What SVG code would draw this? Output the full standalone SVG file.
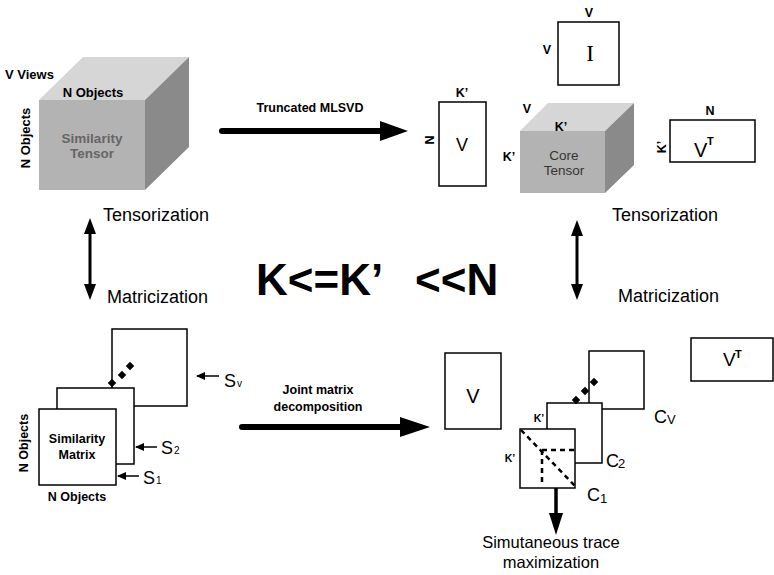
<svg xmlns="http://www.w3.org/2000/svg" width="774" height="575" viewBox="0 0 774 575">
<style>
text{font-family:"Liberation Sans",Arial,sans-serif;fill:#000}
.b{font-weight:bold}
.lbl{font-size:12.5px;font-weight:bold}
.reg{font-size:18px}
.mat{fill:#fff;stroke:#000;stroke-width:1.5}
.front{fill:#b3b3b3}
.top{fill:#d6d6d6}
.side{fill:#8a8a8a}
.dash{stroke:#000;stroke-width:2.5;stroke-dasharray:5 4;fill:none}
.thin{stroke:#000;stroke-width:1.5;fill:none}
</style>
<defs>
<marker id="sa" markerWidth="9" markerHeight="8" refX="8" refY="4" orient="auto" markerUnits="userSpaceOnUse">
<path d="M0,0 L9,4 L0,8 z" fill="#000"/>
</marker>
</defs>

<g id="similarity-tensor">
<rect class="front" x="39" y="100" width="106" height="90"/>
<polygon class="top" points="39,100 83,57 189,57 145,100"/>
<polygon class="side" points="145,100 189,57 189,147 145,190"/>
<text x="5" y="79" class="b" font-size="13">V Views</text>
<text x="93" y="97" class="b" font-size="13" text-anchor="middle">N Objects</text>
<text transform="translate(30,138) rotate(-90)" class="b" font-size="13" text-anchor="middle">N Objects</text>
<text x="92" y="143" class="b" font-size="13.5" text-anchor="middle" style="fill:#666">Similarity</text>
<text x="92" y="158" class="b" font-size="13.5" text-anchor="middle" style="fill:#666">Tensor</text>
</g>

<g id="V-top">
<rect class="mat" x="439" y="102" width="47" height="84"/>
<text x="462" y="151" class="reg" font-size="19" text-anchor="middle">V</text>
<text x="462" y="97" class="b" font-size="12.5" text-anchor="middle">K’</text>
<text transform="translate(434,140) rotate(-90)" class="b" font-size="12.5" text-anchor="middle">N</text>
</g>

<g id="I-matrix">
<rect class="mat" x="558" y="22" width="61" height="63"/>
<text x="590" y="61" font-size="23" text-anchor="middle" style="font-family:'Liberation Serif','Times New Roman',serif">I</text>
<text x="589" y="17" class="b" font-size="12.5" text-anchor="middle">V</text>
<text x="547" y="54" class="b" font-size="12.5" text-anchor="middle">V</text>
</g>

<g id="core-tensor">
<rect class="front" x="520" y="131" width="85" height="62"/>
<polygon class="top" points="520,131 548,103 634,103 605,131"/>
<polygon class="side" points="605,131 634,103 634,165 605,193"/>
<text x="527" y="113" class="b" font-size="12.5" text-anchor="middle">V</text>
<text x="561" y="131" class="b" font-size="12.5" text-anchor="middle">K’</text>
<text x="509" y="161" class="b" font-size="12.5" text-anchor="middle">K’</text>
<text x="564" y="160" font-size="13.5" text-anchor="middle" style="fill:#333">Core</text>
<text x="564" y="175" font-size="13.5" text-anchor="middle" style="fill:#333">Tensor</text>
</g>

<g id="VT-top">
<rect class="mat" x="670" y="120" width="85" height="42"/>
<text x="710" y="115" class="b" font-size="12.5" text-anchor="middle">N</text>
<text transform="translate(666,147) rotate(-90)" class="b" font-size="12.5" text-anchor="middle">K’</text>
<text x="694" y="157" font-size="20">V</text>
<text x="707" y="145" class="b" font-size="11">T</text>
</g>

<g id="labels-middle">
<text x="103" y="221" font-size="18">Tensorization</text>
<text x="107" y="303" font-size="18">Matricization</text>
<text x="612" y="221" font-size="18">Tensorization</text>
<text x="618" y="302" font-size="18">Matricization</text>
<text y="295" class="b" font-size="44"><tspan x="256">K&lt;=K’</tspan><tspan x="415">&lt;&lt;N</tspan></text>
</g>

<g id="similarity-matrices">
<rect class="mat" x="112" y="329" width="75" height="77"/>
<rect class="mat" x="57" y="388" width="77" height="76"/>
<rect class="mat" x="39" y="409" width="77" height="76"/>
<g fill="#000">
<rect x="109" y="380" width="6" height="6" transform="rotate(45 112 383)"/>
<rect x="119" y="372" width="6" height="6" transform="rotate(45 122 375)"/>
<rect x="127" y="363" width="6" height="6" transform="rotate(45 130 366)"/>
</g>
<text x="77" y="443" class="b" font-size="12.5" text-anchor="middle">Similarity</text>
<text x="77" y="459" class="b" font-size="12.5" text-anchor="middle">Matrix</text>
<text transform="translate(28,443) rotate(-90)" class="b" font-size="12.5" text-anchor="middle">N Objects</text>
<text x="77" y="501" class="b" font-size="12.5" text-anchor="middle">N Objects</text>
<text x="224" y="387" font-size="18">S</text>
<text x="237" y="387" font-size="10">v</text>
<text x="161" y="454" font-size="18">S</text>
<text x="174" y="454" font-size="10">2</text>
<text x="143" y="484" font-size="18">S</text>
<text x="156" y="484" font-size="10">1</text>
</g>

<g id="V-bottom">
<rect class="mat" x="445" y="353" width="56" height="76"/>
<text x="473" y="403" font-size="20" text-anchor="middle">V</text>
</g>

<g id="VT-bottom">
<rect class="mat" x="691" y="338" width="82" height="43"/>
<text x="723" y="366" font-size="19">V</text>
<text x="735" y="358" class="b" font-size="11">T</text>
</g>

<g id="core-slices">
<rect class="mat" x="589" y="351" width="55" height="58"/>
<rect class="mat" x="547" y="403" width="55" height="60"/>
<rect class="mat" x="520" y="429" width="55" height="59"/>
<g fill="#000">
<rect x="573" y="397" width="6" height="6" transform="rotate(45 576 400)"/>
<rect x="582" y="388" width="6" height="6" transform="rotate(45 585 391)"/>
<rect x="591" y="379" width="6" height="6" transform="rotate(45 594 382)"/>
</g>
<line class="dash" x1="521" y1="430" x2="575" y2="486"/>
<line class="dash" x1="542" y1="450" x2="575" y2="450"/>
<line class="dash" x1="542" y1="450" x2="542" y2="486"/>
<text x="539" y="422" class="b" font-size="10.5" text-anchor="middle">K’</text>
<text x="510" y="462" class="b" font-size="10.5" text-anchor="middle">K’</text>
<text x="654" y="423" font-size="18">C</text>
<text x="667" y="424" font-size="13">V</text>
<text x="606" y="467" font-size="18">C</text>
<text x="618" y="468" font-size="13">2</text>
<text x="587" y="501" font-size="18">C</text>
<text x="600" y="503" font-size="13">1</text>
<text x="551" y="548" font-size="16.5" text-anchor="middle">Simutaneous trace</text>
<text x="551" y="568" font-size="16.5" text-anchor="middle">maximization</text>
</g>

<g id="connectors">
<line x1="222" y1="131" x2="382" y2="131" stroke="#000" stroke-width="6" stroke-linecap="round"/>
<polygon points="380,121 408,131 380,141" fill="#000"/>
<text x="310" y="112" class="lbl" text-anchor="middle">Truncated MLSVD</text>

<line x1="242" y1="427" x2="402" y2="427" stroke="#000" stroke-width="6" stroke-linecap="round"/>
<polygon points="400,417 430,427 400,437" fill="#000"/>
<text x="318" y="394" class="lbl" text-anchor="middle">Joint matrix</text>
<text x="318" y="411" class="lbl" text-anchor="middle">decomposition</text>

<line x1="90" y1="230" x2="90" y2="288" stroke="#000" stroke-width="3"/>
<polygon points="90,218 84,234 96,234" fill="#000"/>
<polygon points="90,300 84,284 96,284" fill="#000"/>

<line x1="577" y1="232" x2="577" y2="288" stroke="#000" stroke-width="3"/>
<polygon points="577,220 571,236 583,236" fill="#000"/>
<polygon points="577,300 571,284 583,284" fill="#000"/>

<line x1="556" y1="488" x2="556" y2="515" stroke="#000" stroke-width="3.5"/>
<polygon points="549,513 563,513 556,535" fill="#000"/>

<line class="thin" x1="219" y1="376" x2="197" y2="376" marker-end="url(#sa)"/>
<line class="thin" x1="157" y1="447" x2="136" y2="447" marker-end="url(#sa)"/>
<line class="thin" x1="139" y1="476" x2="118" y2="476" marker-end="url(#sa)"/>
</g>
</svg>
